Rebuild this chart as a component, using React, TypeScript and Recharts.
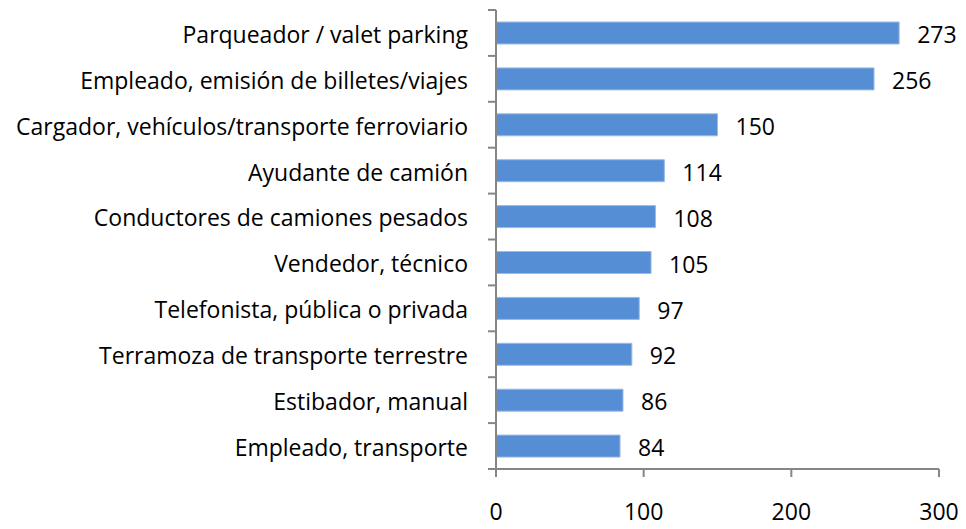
import React from 'react';
import { BarChart, Bar, XAxis, YAxis, LabelList } from 'recharts';

const categories = [
  'Parqueador / valet parking',
  'Empleado, emisión de billetes/viajes',
  'Cargador, vehículos/transporte ferroviario',
  'Ayudante de camión',
  'Conductores de camiones pesados',
  'Vendedor, técnico',
  'Telefonista, pública o privada',
  'Terramoza de transporte terrestre',
  'Estibador, manual',
  'Empleado, transporte',
];
const values = [273, 256, 150, 114, 108, 105, 97, 92, 86, 84];
const xTicks = [0, 100, 200, 300];

const data = categories.map((name, i) => ({ name, value: values[i] }));

const FONT = '"Open Sans", Lato, sans-serif';
const AXIS = '#868686';
const PLOT_H = 459;
const BAND = PLOT_H / categories.length;

const CategoryTick = (props: any) => {
  const { x, y, payload, index } = props;
  const last = index === categories.length - 1;
  return (
    <g>
      <text x={x} y={y} dy="0.43em" textAnchor="end" fontSize={23} fill="#000" fontFamily={FONT}>
        {payload.value}
      </text>
      <line x1={x + 20} x2={x + 28} y1={y - BAND / 2} y2={y - BAND / 2} stroke={AXIS} strokeWidth={2} />
      {last && <line x1={x + 20} x2={x + 28} y1={y + BAND / 2} y2={y + BAND / 2} stroke={AXIS} strokeWidth={2} />}
    </g>
  );
};

export default function App() {
  return (
    <div style={{ position: 'absolute', left: 0, top: 0, background: '#fff' }}>
      <BarChart
        width={966}
        height={529}
        data={data}
        layout="vertical"
        margin={{ top: 10, right: 27, bottom: 0, left: 0 }}
        barSize={22}
      >
        <XAxis
          type="number"
          domain={[0, 300]}
          ticks={xTicks}
          height={60}
          tickSize={8}
          tickMargin={27}
          axisLine={{ stroke: AXIS, strokeWidth: 2 }}
          tickLine={{ stroke: AXIS, strokeWidth: 2 }}
          tick={{ fill: '#000', fontSize: 23, fontFamily: FONT }}
        />
        <YAxis
          type="category"
          dataKey="name"
          width={496}
          tickSize={0}
          tickMargin={28}
          interval={0}
          axisLine={{ stroke: AXIS, strokeWidth: 2 }}
          tickLine={false}
          tick={<CategoryTick />}
        />
        <Bar dataKey="value" fill="#558ED5" stroke="#9DB9E4" strokeWidth={1} isAnimationActive={false}>
          <LabelList dataKey="value" position="right" offset={18} dy={2} fill="#000" fontSize={23} fontFamily={FONT} />
        </Bar>
      </BarChart>
    </div>
  );
}
